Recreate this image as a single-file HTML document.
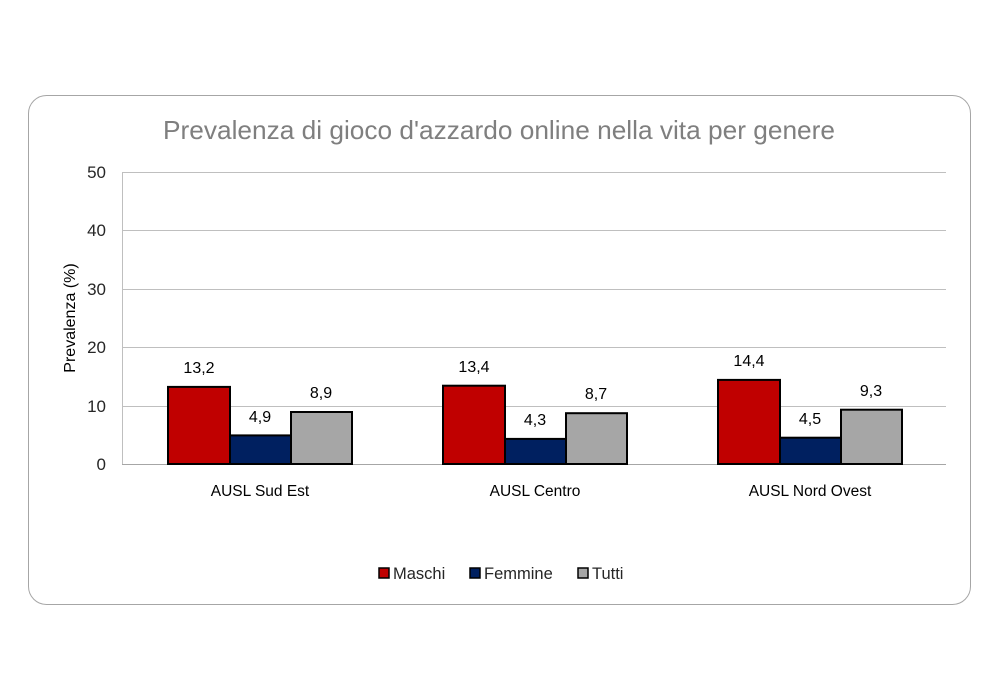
<!DOCTYPE html>
<html><head><meta charset="utf-8"><style>
html,body{margin:0;padding:0;background:#fff;}
svg{display:block;font-family:"Liberation Sans","DejaVu Sans",sans-serif;}
</style></head><body>
<svg width="1000" height="700" viewBox="0 0 1000 700">
<rect x="28.5" y="95.5" width="942" height="509" rx="18" fill="#fff" stroke="#a6a6a6" stroke-width="1"/>
<text x="499" y="139" text-anchor="middle" font-size="26" textLength="672" lengthAdjust="spacingAndGlyphs" fill="#7f7f7f">Prevalenza di gioco d'azzardo online nella vita per genere</text>
<g stroke="#bfbfbf" stroke-width="1">
<line x1="122" y1="172.5" x2="946" y2="172.5"/>
<line x1="122" y1="230.5" x2="946" y2="230.5"/>
<line x1="122" y1="289.5" x2="946" y2="289.5"/>
<line x1="122" y1="347.5" x2="946" y2="347.5"/>
<line x1="122" y1="406.5" x2="946" y2="406.5"/>
<line x1="122.5" y1="172" x2="122.5" y2="464"/>
</g>
<line x1="122" y1="464.5" x2="946" y2="464.5" stroke="#a6a6a6"/>
<g font-size="17" fill="#262626" text-anchor="end">
<text x="106" y="178">50</text><text x="106" y="236">40</text><text x="106" y="295">30</text>
<text x="106" y="353">20</text><text x="106" y="412">10</text><text x="106" y="470">0</text>
</g>
<text transform="translate(75,318) rotate(-90)" text-anchor="middle" font-size="16" fill="#000">Prevalenza (%)</text>
<g stroke="#000" stroke-width="2">
<rect x="168" y="386.9" width="62" height="77.1" fill="#c00000"/>
<rect x="230" y="435.4" width="61" height="28.6" fill="#002060"/>
<rect x="291" y="412" width="61" height="52" fill="#a6a6a6"/>
<rect x="443" y="385.7" width="62" height="78.3" fill="#c00000"/>
<rect x="505" y="438.9" width="61" height="25.1" fill="#002060"/>
<rect x="566" y="413.2" width="61" height="50.8" fill="#a6a6a6"/>
<rect x="718" y="379.9" width="62" height="84.1" fill="#c00000"/>
<rect x="780" y="437.7" width="61" height="26.3" fill="#002060"/>
<rect x="841" y="409.7" width="61" height="54.3" fill="#a6a6a6"/>
</g>
<g font-size="16" fill="#000" text-anchor="middle">
<text x="199" y="373">13,2</text><text x="260" y="422">4,9</text><text x="321" y="398">8,9</text>
<text x="474" y="372">13,4</text><text x="535" y="425">4,3</text><text x="596" y="399">8,7</text>
<text x="749" y="366">14,4</text><text x="810" y="424">4,5</text><text x="871" y="396">9,3</text>
<text x="260" y="496" font-size="15.5">AUSL Sud Est</text>
<text x="535" y="496" font-size="15.5">AUSL Centro</text>
<text x="810" y="496" font-size="15.5">AUSL Nord Ovest</text>
</g>
<g stroke="#000" stroke-width="1.5">
<rect x="379" y="568" width="10" height="10" fill="#c00000"/>
<rect x="470" y="568" width="10" height="10" fill="#002060"/>
<rect x="578" y="568" width="10" height="10" fill="#a6a6a6"/>
</g>
<g font-size="16.5" fill="#262626">
<text x="393" y="579">Maschi</text><text x="484" y="579">Femmine</text><text x="592" y="579">Tutti</text>
</g>
</svg>
</body></html>
